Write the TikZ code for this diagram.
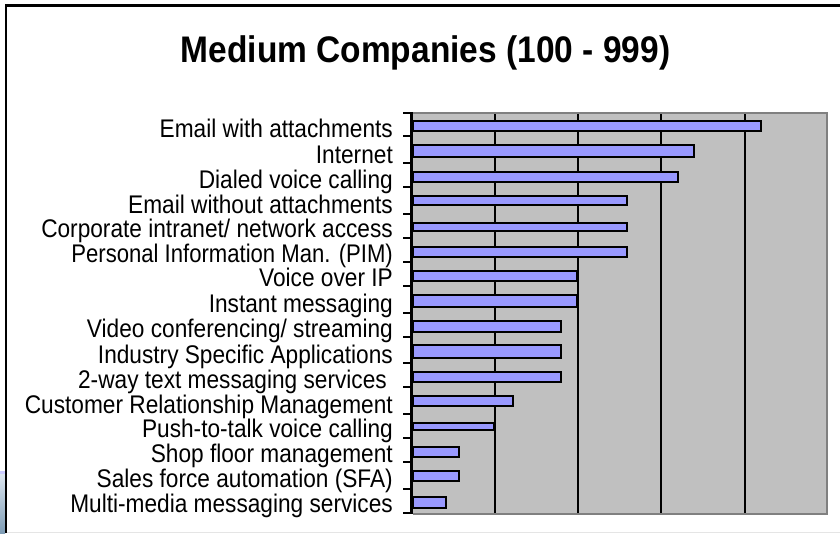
\documentclass[tikz,border=0pt]{standalone}
\usepackage{fontspec}
\setmainfont[FakeStretch=0.889]{Liberation Sans}
\newfontfamily\titlefont[FakeStretch=0.905]{Liberation Sans}
\definecolor{plotgrey}{HTML}{C0C0C0}
\definecolor{plotedge}{HTML}{808080}
\definecolor{barblue}{HTML}{9999FF}
\definecolor{sliverlight}{HTML}{DCE6F0}
\definecolor{sliverdark}{HTML}{7F9DB5}
\tikzset{
  px/.style={x=1pt,y=-1pt},
  catlabel/.style={anchor=base east,inner sep=0pt,font=\fontsize{25.5}{27}\selectfont},
  titlelabel/.style={anchor=base,inner sep=0pt,font=\titlefont\fontsize{37}{40}\selectfont\bfseries},
  barrect/.style={draw=black,line width=2.4pt,fill=barblue},
  gridrule/.style={draw=black,line width=2pt},
  tickrule/.style={draw=black,line width=2.2pt},
}
\begin{document}
\begin{tikzpicture}[px]
\useasboundingbox (0,0) rectangle (840,533);
\fill[white] (0,0) rectangle (840,533);
% photo sliver
\shade[top color=sliverlight,bottom color=sliverdark] (0,474) rectangle (5,533);
\fill[blue!20!white] (0,471) rectangle (5,474);
% frame
\draw[black,line width=2.5pt] (6,533) -- (6,5.5) -- (840,5.5);
\draw[black!10,line width=1pt] (7,532.5) -- (840,532.5);
% plot
\fill[plotedge] (413,112) rectangle (827.5,514.5);
\fill[plotgrey] (413,113.5) rectangle (825.5,512.5);
\foreach \gx in {495,578,661,745}
  \draw[gridrule] (\gx,114) -- (\gx,513);
% bars
\foreach \top/\bot/\rgt in {121.2/130.8/761,145.2/156.8/694,172.2/181.8/678,196.2/204.8/627,223.2/230.8/627,247.2/256.8/627,271.2/280.8/577,295.2/306.8/577,321.2/331.8/561,345.2/357.8/561,372.2/381.8/561,396.2/405.8/513,423.2/429.8/494,447.2/456.8/459,471.2/480.8/459,497.2/507.8/446}
  \draw[barrect] (413,\top) rectangle (\rgt,\bot);
% axis
\draw[black,line width=2.5pt] (411.5,112) -- (411.5,514);
\foreach \ty in {113,136,163,187,214,238,262,286,313,337,363,387,414,438,462,489,513}
  \draw[tickrule] (403,\ty) -- (411,\ty);
% title
\node[titlelabel] (title) at (425.5,62) {Medium Companies (100 - 999)};
% labels
\foreach \lx/\ly/\ltext [count=\li] in {
 393/137/{Email with attachments},
 393/163/{Internet},
 393/188/{Dialed voice calling},
 393/213/{Email without attachments},
 393/237/{Corporate intranet/ network access},
 393/262/{\scalebox{0.975}[1]{Personal Information Man. (PIM)}},
 393/286/{Voice over IP},
 393/312/{Instant messaging},
 393/337/{Video conferencing/ streaming},
 393/363/{Industry Specific Applications},
 387/388/{2-way text messaging services},
 393/413/{Customer Relationship Management},
 393/437/{Push-to-talk voice calling},
 393/462/{Shop floor management},
 393/487/{Sales force automation (SFA)},
 393/512/{Multi-media messaging services}}
  \node[catlabel] (cat\li) at (\lx,\ly) {\ltext};
\end{tikzpicture}
\end{document}
